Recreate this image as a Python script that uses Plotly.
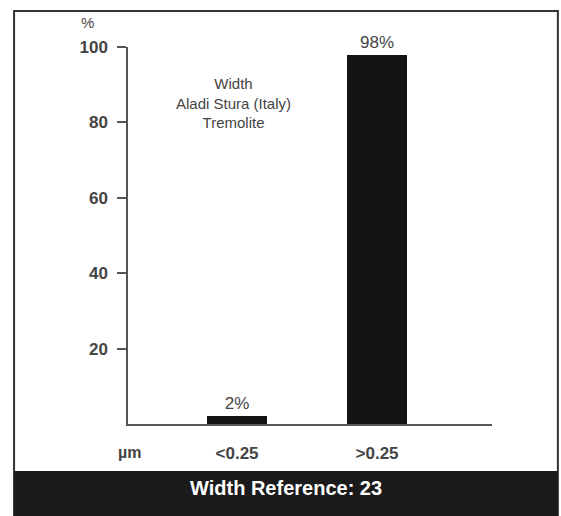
import plotly.graph_objects as go

# width classes and the share of fibres in each (%)
categories = ["<0.25", ">0.25"]
shares = [2, 98]
y_ticks = [20, 40, 60, 80, 100]

title_lines = ["Width", "Aladi Stura (Italy)", "Tremolite"]
banner_text = "Width Reference: 23"

font_family = "Liberation Sans, Arial, sans-serif"
ink = "#444444"
axis_col = "#555555"

fig = go.Figure()

fig.add_trace(
    go.Bar(
        x=categories,
        y=shares,
        width=0.43,
        marker=dict(color="#141414", line=dict(width=0)),
        text=[f"{v}%" for v in shares],
        textposition="outside",
        textfont=dict(size=17, color=ink, family=font_family),
        cliponaxis=False,
        hoverinfo="skip",
    )
)

# frame round the whole chart and the dark banner at the bottom
shapes = [
    dict(type="rect", xref="paper", yref="paper",
         x0=-0.313, x1=1.181, y0=-0.244, y1=1.0955,
         line=dict(color="#333333", width=2), fillcolor="rgba(0,0,0,0)", layer="below"),
    dict(type="rect", xref="paper", yref="paper",
         x0=-0.313, x1=1.181, y0=-0.244, y1=-0.1247,
         line=dict(width=0), fillcolor="#1b1b1b", layer="above"),
]


def label(text, x, y, size, color=ink):
    return dict(text=text, x=x, y=y, xref="paper", yref="paper", showarrow=False,
                xanchor="center", yanchor="middle", align="center",
                font=dict(size=size, color=color, family=font_family))


annotations = [
    label("%", -0.1126, 1.0637, 15),
    label("<b>µm</b>", 0.003, -0.0769, 16),
    label(f"<b>{banner_text}</b>", 0.434, -0.170, 20, "white"),
    label("<br>".join(title_lines), 0.291, 0.851, 15),
]

fig.update_layout(
    width=561,
    height=516,
    margin=dict(l=128, r=69, t=47, b=92),
    paper_bgcolor="white",
    plot_bgcolor="white",
    showlegend=False,
    bargap=0,
    shapes=shapes,
    annotations=annotations,
    font=dict(family=font_family, color=ink),
)

fig.update_xaxes(
    type="category",
    range=[-0.779, 1.821],
    showline=True,
    linecolor=axis_col,
    linewidth=1.5,
    ticks="",
    showgrid=False,
    zeroline=False,
    tickfont=dict(size=17, color=ink, family=font_family),
    tickvals=categories,
    ticktext=[f"<b>{c}</b>" for c in categories],
    ticklabelstandoff=13,
    fixedrange=True,
)

fig.update_yaxes(
    range=[0, 100],
    showline=True,
    linecolor=axis_col,
    linewidth=1.5,
    ticks="outside",
    ticklen=9,
    tickcolor=axis_col,
    tickwidth=1.5,
    tickvals=y_ticks,
    ticktext=[f"<b>{v}</b>" for v in y_ticks],
    tickfont=dict(size=17, color=ink, family=font_family),
    ticklabelstandoff=6,
    showgrid=False,
    zeroline=False,
    fixedrange=True,
)

# drop the default page margin so the figure sits at the window's corner
fig.write_html("out.html", config={"displayModeBar": False},
               post_script="document.body.style.margin='0';")
